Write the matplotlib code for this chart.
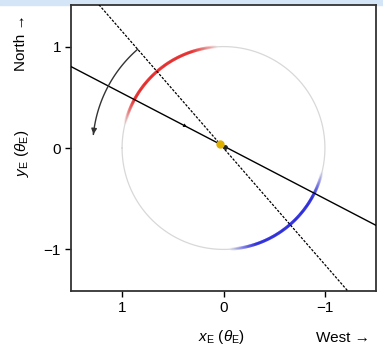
import numpy as np
import matplotlib
matplotlib.use("Agg")
import matplotlib.pyplot as plt
from matplotlib.collections import LineCollection
from matplotlib.patches import Rectangle

plt.rcParams['font.family'] = ['Liberation Sans', 'DejaVu Sans']
plt.rcParams['mathtext.fontset'] = 'custom'
plt.rcParams['mathtext.rm'] = 'Liberation Sans'
plt.rcParams['mathtext.it'] = 'Liberation Sans:italic'

# chart values
circle_radius = 1.0
red_arc_deg = [13, 87]
blue_arc_deg = [193, 267]
lens_pos = [0.03, 0.04]
source_pos = [-0.01, 0.01]
solid_line_angle = 27.5   # degrees, through the lens
solid_line_offset = [0.0, 0.02]
dashed_line_angle = 49.0
rot_arc_radius = 1.29
rot_arc_deg = [49, 6]
motion_arrow_x = 0.40
x_ticks = [1, 0, -1]
y_ticks = [-1, 0, 1]
x_limits = [1.5, -1.5]
y_limits = [-1.41, 1.41]


def grad_arc(ax, a0, a1, rgb, r=1.0, n=200):
    t = np.radians(np.linspace(a0, a1, n))
    x = r * np.cos(t)
    y = r * np.sin(t)
    pts = np.array([x, y]).T.reshape(-1, 1, 2)
    segs = np.concatenate([pts[:-1], pts[1:]], axis=1)
    u = np.linspace(0, 1, n - 1)
    alpha = np.clip(np.sin(np.pi * u) * 1.6, 0, 1) ** 1.2
    cols = [(rgb[0], rgb[1], rgb[2], a) for a in alpha]
    ax.add_collection(LineCollection(segs, colors=cols, linewidths=2.2,
                                     capstyle='butt', zorder=3))


fig = plt.figure(figsize=(3.83, 3.5), dpi=100)
fig.patches.append(Rectangle((0, 1 - 4.5 / 350), 1, 4.5 / 350,
                             transform=fig.transFigure, color='#d3e5f6',
                             zorder=-1))
ax = fig.add_axes([71 / 383, 59 / 350, 305 / 383, 286 / 350])

# Einstein ring
t = np.linspace(0, 2 * np.pi, 400)
ax.plot(circle_radius * np.cos(t), circle_radius * np.sin(t),
        color='#d8d8d8', lw=0.9, zorder=2)
grad_arc(ax, red_arc_deg[0], red_arc_deg[1], (0.9, 0.0, 0.0))
grad_arc(ax, blue_arc_deg[0], blue_arc_deg[1], (0.0, 0.0, 0.85))

# lens trajectory and axis
s = np.linspace(-3, 3, 2)
a = np.radians(solid_line_angle)
ax.plot(solid_line_offset[0] + s * np.cos(a), solid_line_offset[1] + s * np.sin(a),
        color='black', lw=1.0, zorder=4)
b = np.radians(dashed_line_angle)
ax.plot(s * np.cos(b), s * np.sin(b), color='black', lw=0.9,
        ls=(0, (2, 1.2)), zorder=4)

# direction of motion marker
mx = motion_arrow_x
my = solid_line_offset[1] + mx * np.tan(a)
ax.annotate('', xy=(mx - 0.04, my - 0.04 * np.tan(a)), xytext=(mx, my),
            arrowprops=dict(arrowstyle='-|>', color='black', lw=0,
                            mutation_scale=7), zorder=5)

# rotation arc
ta = np.radians(np.linspace(rot_arc_deg[0], rot_arc_deg[1], 100))
ax.plot(rot_arc_radius * np.cos(ta), rot_arc_radius * np.sin(ta),
        color='#333333', lw=1.0, zorder=4)
tail = np.radians(rot_arc_deg[1] + 1.5)
ax.annotate('', xy=(rot_arc_radius * np.cos(ta[-1]), rot_arc_radius * np.sin(ta[-1])),
            xytext=(rot_arc_radius * np.cos(tail), rot_arc_radius * np.sin(tail)),
            arrowprops=dict(arrowstyle='-|>', color='#333333', lw=1.0,
                            mutation_scale=8), zorder=5)

ax.plot(*lens_pos, 'o', color='#e0b000', ms=5, zorder=6)
ax.plot(*source_pos, 'o', color='#222222', ms=2.5, zorder=5)

ax.set_xlim(x_limits)
ax.set_ylim(y_limits)
ax.set_aspect('equal', adjustable='box')
ax.set_xticks(x_ticks)
ax.set_yticks(y_ticks)
ax.set_xticklabels(['1', '0', '\u22121'])
ax.set_yticklabels(['\u22121', '0', '1'])
ax.tick_params(labelsize=11, length=4, width=1.0, direction='out')
for sp in ax.spines.values():
    sp.set_linewidth(1.3)
    sp.set_color('#333333')

fig.text(222 / 383, 1 - 337 / 350, r'$x_\mathrm{E}$ ($\theta_\mathrm{E}$)',
         ha='center', va='center', fontsize=11)
fig.text(343 / 383, 1 - 338 / 350, 'West \u2192', ha='center', va='center',
         fontsize=11)
fig.text(22 / 383, 1 - 153 / 350, r'$y_\mathrm{E}$ ($\theta_\mathrm{E}$)',
         ha='center', va='center', fontsize=11, rotation=90)
fig.text(21 / 383, 1 - 43 / 350, 'North \u2192', ha='center', va='center',
         fontsize=11, rotation=90)

fig.savefig('out.png', dpi=100)
